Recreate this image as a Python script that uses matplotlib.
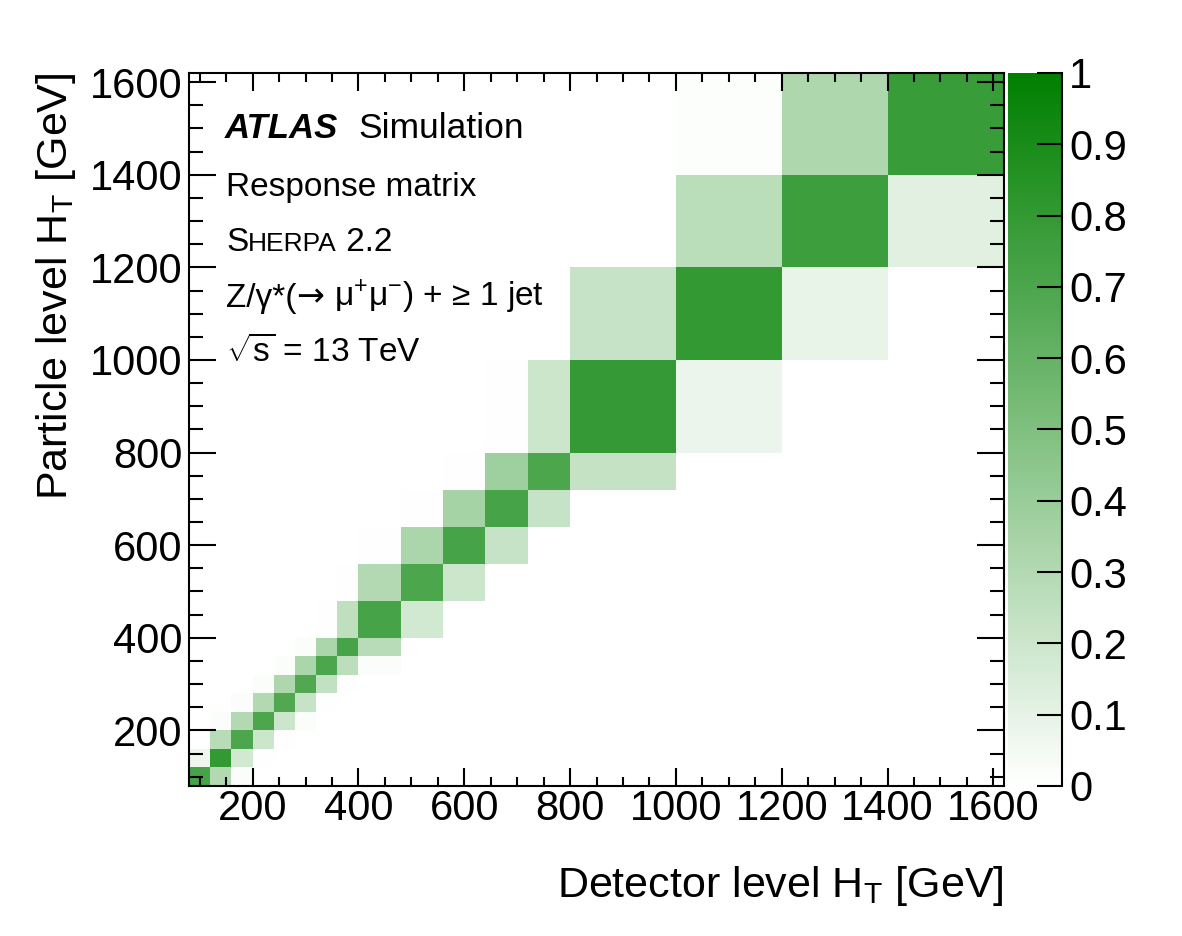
import numpy as np
import matplotlib
matplotlib.use("Agg")
import matplotlib.pyplot as plt
from matplotlib.colors import LinearSegmentedColormap
from matplotlib.ticker import MultipleLocator

plt.rcParams['font.family'] = ['Liberation Sans', 'DejaVu Sans']
plt.rcParams['mathtext.fontset'] = 'custom'
plt.rcParams['mathtext.rm'] = 'Liberation Sans'
plt.rcParams['mathtext.it'] = 'Liberation Sans:italic'
plt.rcParams['mathtext.bf'] = 'Liberation Sans:bold'

# bin edges in GeV (same binning on both axes)
ht_edges = [80, 120, 160, 200, 240, 280, 320, 360, 400, 480, 560, 640, 720,
            800, 1000, 1200, 1400, 1620]

# response matrix bands, row = particle level bin, column = detector level bin
diag = [0.72, 0.80, 0.70, 0.70, 0.68, 0.68, 0.70, 0.72, 0.72, 0.70, 0.72,
        0.72, 0.70, 0.79, 0.80, 0.76, 0.78]
below1 = [0.07, 0.28, 0.30, 0.30, 0.32, 0.33, 0.33, 0.25, 0.30, 0.33, 0.35,
          0.38, 0.20, 0.22, 0.27, 0.32]
above1 = [0.30, 0.18, 0.20, 0.20, 0.22, 0.24, 0.26, 0.28, 0.18, 0.20, 0.22,
          0.22, 0.23, 0.08, 0.09, 0.12]
below2 = [0.0, 0.02, 0.02, 0.02, 0.02, 0.02, 0.01, 0.01, 0.01, 0.01, 0.01,
          0.01, 0.0, 0.0, 0.012]
above2 = [0.02, 0.01, 0.01, 0.02, 0.01, 0.01, 0.02, 0.0, 0.0, 0.0, 0.0,
          0.0, 0.0, 0.0, 0.0]

x_ticks = [200, 400, 600, 800, 1000, 1200, 1400, 1600]
cbar_ticks = [0, 0.1, 0.2, 0.3, 0.4, 0.5, 0.6, 0.7, 0.8, 0.9, 1]
cbar_labels = ['0', '0.1', '0.2', '0.3', '0.4', '0.5', '0.6', '0.7', '0.8', '0.9', '1']

n = len(ht_edges) - 1
resp = np.zeros((n, n))
for i in range(n):
    resp[i, i] = diag[i]
for i in range(1, n):
    resp[i, i - 1] = below1[i - 1]
for i in range(n - 1):
    resp[i, i + 1] = above1[i]
for i in range(2, n):
    resp[i, i - 2] = below2[i - 2]
for i in range(n - 2):
    resp[i, i + 2] = above2[i]

fig = plt.figure(figsize=(11.82, 9.36), dpi=100)
ax = fig.add_axes([0.16, 0.1603, 0.6894, 0.7618])

cmap = LinearSegmentedColormap.from_list('atlasgreen', ['white', (0.0, 0.5, 0.0)])
mesh = ax.pcolormesh(ht_edges, ht_edges, resp, cmap=cmap, vmin=0, vmax=1)

ax.set_xlim(ht_edges[0], ht_edges[-1])
ax.set_ylim(ht_edges[0], ht_edges[-1])
ax.set_xticks(x_ticks)
ax.set_yticks(x_ticks)
ax.xaxis.set_minor_locator(MultipleLocator(50))
ax.yaxis.set_minor_locator(MultipleLocator(50))
ax.tick_params(which='both', direction='in', top=True, right=True, width=1.5,
               labelsize=30)
ax.tick_params(axis='x', which='major', length=13, pad=2)
ax.tick_params(axis='x', which='minor', length=6.5)
ax.tick_params(axis='y', which='major', length=19.5, pad=5)
ax.tick_params(axis='y', which='minor', length=10)
for s in ax.spines.values():
    s.set_linewidth(1.5)

ax.set_xlabel(r'Detector level H$_{\mathrm{T}}$ [GeV]', fontsize=31, loc='right')
ax.xaxis.set_label_coords(1.0, -0.11)
ax.set_ylabel(r'Particle level H$_{\mathrm{T}}$ [GeV]', fontsize=31, loc='top')
ax.yaxis.set_label_coords(-0.136, 1.0)

# colour bar
cax = fig.add_axes([0.853, 0.1603, 0.0457, 0.7618])
cb = fig.colorbar(mesh, cax=cax, ticks=cbar_ticks)
cb.ax.set_yticklabels(cbar_labels)
cb.outline.set_visible(False)
cax.tick_params(direction='in', length=18, width=1.5, labelsize=30, pad=5)
cax.plot([1, 1], [0, 1], transform=cax.transAxes, color='k', lw=1.5,
         clip_on=False)

# labels in the top left corner
fig.canvas.draw()
rend = fig.canvas.get_renderer()


def after(txt, gap_px):
    bb = txt.get_window_extent(rend)
    return ax.transAxes.inverted().transform((bb.x1 + gap_px, 0))[0]


t = ax.text(0.0442, 0.909, 'ATLAS', transform=ax.transAxes, fontsize=25,
            fontweight='bold', fontstyle='italic', va='baseline')
ax.text(after(t, 20), 0.909, 'Simulation', transform=ax.transAxes,
        fontsize=25.5, va='baseline')

ax.text(0.0454, 0.8275, 'Response matrix', transform=ax.transAxes,
        fontsize=24, va='baseline')

t = ax.text(0.0454, 0.750, 'S', transform=ax.transAxes, fontsize=24,
            va='baseline')
t = ax.text(after(t, 0), 0.750, 'HERPA', transform=ax.transAxes, fontsize=19,
            va='baseline')
ax.text(after(t, 0), 0.750, ' 2.2', transform=ax.transAxes, fontsize=24,
        va='baseline')

t = ax.text(0.0454, 0.672, 'Z/γ*(', transform=ax.transAxes, fontsize=24,
            va='baseline')
t = ax.text(after(t, 0), 0.672, '→', transform=ax.transAxes, fontsize=24,
            va='baseline', family='DejaVu Sans')
ax.text(after(t, 0), 0.672, r' μ$^{+}$μ$^{-}$) + ≥ 1 jet',
        transform=ax.transAxes, fontsize=24, va='baseline')
ax.text(0.0454, 0.595, r'$\sqrt{\mathrm{s}}$ = 13 TeV', transform=ax.transAxes,
        fontsize=24, va='baseline')

fig.savefig('out.png', dpi=100)
